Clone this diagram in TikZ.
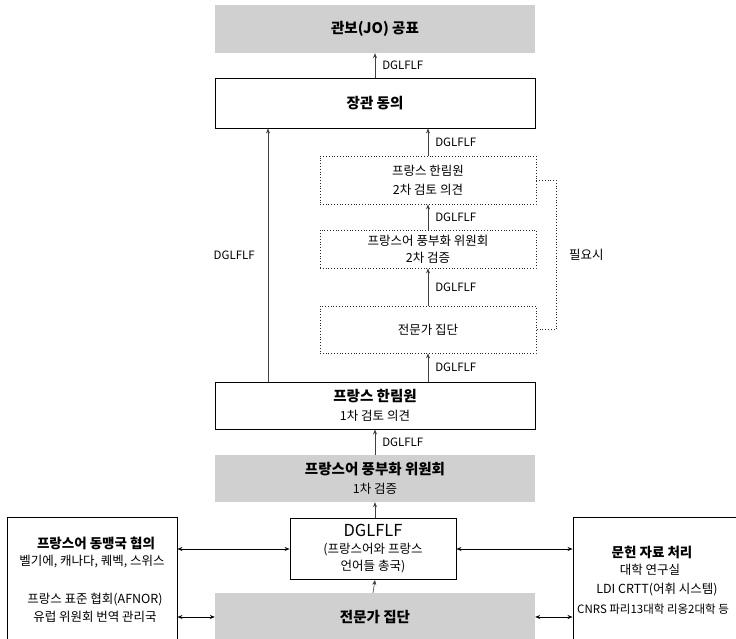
\documentclass[tikz,border=0pt]{standalone}
\usepackage{fontspec}
\setmainfont{Noto Sans CJK KR}
\usetikzlibrary{arrows.meta}
\definecolor{boxgray}{RGB}{208,208,208}
\tikzset{
  graybox/.style={fill=boxgray, draw=none, minimum width=320pt, inner sep=0pt, align=center},
  solidbox/.style={draw=black, line width=0.9pt, fill=white, inner sep=0pt, align=center},
  dotbox/.style={draw=black!85, dotted, line width=0.8pt, minimum width=216pt, inner sep=0pt, align=center},
  flow/.style={-{Stealth[length=5pt,width=4pt]}, line width=0.6pt, draw=black!75},
  twoway/.style={{Stealth[length=5pt,width=4pt]}-{Stealth[length=5pt,width=4pt]}, line width=0.6pt, draw=black},
  lbl/.style={font=\fontsize{11.5}{13}\selectfont, inner sep=0pt},
  ttl/.style={font=\fontsize{14.5}{18}\selectfont\bfseries},
  sub/.style={font=\fontsize{12.5}{19}\selectfont},
  two/.style={font=\fontsize{12.5}{19}\selectfont},
  plain/.style={inner sep=0pt, align=center}
}
\newcommand{\hd}[1]{{\fontsize{14.5}{19}\selectfont\bfseries #1}}
\begin{document}
\begin{tikzpicture}[x=1pt,y=-1pt]
\useasboundingbox (0,0) rectangle (736,639);
\clip (0,0) rectangle (736,639);

% top
\node[graybox, minimum height=48pt, ttl] (jo) at (375,29) {관보(JO) 공표};
\node[solidbox, minimum width=320pt, minimum height=50pt, ttl] (min) at (375,103) {장관 동의};

% dotted boxes
\node[dotbox, minimum height=48pt, sub] (d1) at (428,180) {프랑스 한림원\\2차 검토 의견};
\node[dotbox, minimum height=38pt, sub, font=\fontsize{12.5}{17}\selectfont] (d2) at (428,249) {프랑스어 풍부화 위원회\\2차 검증};
\node[dotbox, minimum height=47pt, sub] (d3) at (428,329.5) {전문가 집단};

% academy and commission
\node[solidbox, minimum width=320pt, minimum height=47pt, two] (ac) at (375,405.5)
  {\hd{프랑스 한림원}\\1차 검토 의견};
\node[graybox, minimum height=47pt, two] (cr) at (375,478.5)
  {\hd{프랑스어 풍부화 위원회}\\1차 검증};
\node[solidbox, minimum width=166pt, minimum height=61pt, font=\fontsize{12.5}{17}\selectfont] (dg) at (373,549)
  {{\fontsize{16.5}{19}\selectfont DGLFLF}\\(프랑스어와 프랑스\\언어들 총국)};
\node[graybox, minimum height=48pt, ttl] (ex) at (375,617) {전문가 집단};

% side boxes
\node[solidbox, minimum width=170pt, minimum height=150pt] (lb) at (92,592) {};
\node[plain, font=\fontsize{13.5}{16}\selectfont\bfseries] (lt1) at (96,543) {프랑스어 동맹국 협의};
\node[plain, font=\fontsize{12.5}{14}\selectfont] (lt2) at (92,562) {벨기에, 캐나다, 퀘벡, 스위스};
\node[plain, font=\fontsize{12.5}{14}\selectfont] (lt3) at (95,600) {프랑스 표준 협회(AFNOR)};
\node[plain, font=\fontsize{12.5}{14}\selectfont] (lt4) at (95,617) {유럽 위원회 번역 관리국};

\node[solidbox, minimum width=172pt, minimum height=150pt] (rb) at (659,592) {};
\node[plain, font=\fontsize{13.5}{16}\selectfont\bfseries] (rt1) at (652,552) {문헌 자료 처리};
\node[plain, font=\fontsize{12.5}{14}\selectfont] (rt2) at (650,570) {대학 연구실};
\node[plain, font=\fontsize{12.5}{14}\selectfont] (rt3) at (657,590) {LDI CRTT(어휘 시스템)};
\node[plain, font=\fontsize{11.5}{14}\selectfont, anchor=west] (rt4) at (577,609) {CNRS 파리13대학 리옹2대학 등};

% vertical flows
\draw[flow] (min.north) -- node[lbl, right=7pt] (l1) {DGLFLF} (jo.south);
\draw[flow] (d1.north) -- node[lbl, right=7pt] (l2) {DGLFLF} (d1.north |- min.south);
\draw[flow] (d2.north) -- node[lbl, right=7pt] (l3) {DGLFLF} (d1.south);
\draw[flow] (d3.north) -- node[lbl, right=7pt] (l4) {DGLFLF} (d2.south);
\draw[flow] (d3.south |- ac.north) -- node[lbl, right=7pt] (l5) {DGLFLF} (d3.south);
\coordinate (acl) at (268,382);
\draw[flow] (acl) -- node[lbl, left=13pt] (l6) {DGLFLF} (acl |- min.south);
\draw[flow] (cr.north) -- node[lbl, right=7pt] (l7) {DGLFLF} (ac.south);
\draw[flow] (dg.north -| cr.north) -- (cr.south);
\draw[flow] (ex.north -| dg.south) -- (dg.south -| ex.north);

% optional bracket
\coordinate (b1) at (556,180);
\coordinate (b2) at (556,330);
\draw[dotted, line width=0.8pt, draw=black!85] (d1.east) -- (d1.east -| b1) -- (d3.east -| b2) -- (d3.east);
\node[plain, font=\fontsize{12.5}{14}\selectfont, anchor=west] (opt) at (569,255) {필요시};

% horizontal two-way arrows
\draw[twoway] (lb.east |- dg.west) -- (dg.west);
\draw[twoway] (dg.east) -- (dg.east -| rb.west);
\draw[twoway] (lb.east |- ex.west) -- (ex.west);
\draw[twoway] (ex.east) -- (ex.east -| rb.west);
\end{tikzpicture}
\end{document}
